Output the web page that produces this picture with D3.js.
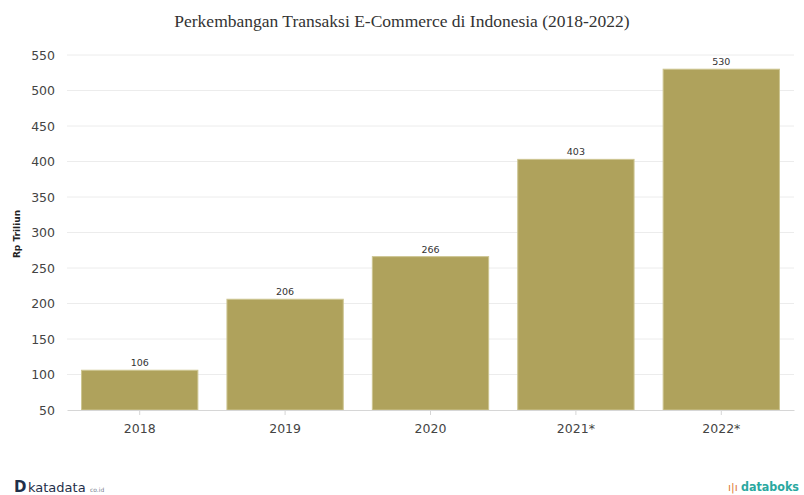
<!DOCTYPE html>
<html><head><meta charset="utf-8">
<script src="https://cdn.jsdelivr.net/npm/d3@7"></script>
<style>body{margin:0;background:#fff}svg{display:block}</style>
</head><body>
<svg id="c" width="804" height="495"></svg>
<script>
const categories = ["2018","2019","2020","2021*","2022*"];
const values = [106,206,266,403,530];
const yTicks = [50,100,150,200,250,300,350,400,450,500,550];

const svg = d3.select("#c");
const W = 804, H = 495;
const m = {l:67, r:10, t:55, b:85};
const x = d3.scaleBand().domain(categories).range([m.l, W-m.r]).paddingInner(0.2).paddingOuter(0.1);
const y = d3.scaleLinear().domain([50,550]).range([H-m.b, m.t]);

svg.append("text").attr("x",402).attr("y",27).attr("text-anchor","middle")
  .attr("font-family","Liberation Serif, Times New Roman, serif").attr("font-size",17.5).attr("fill","#333")
  .text("Perkembangan Transaksi E-Commerce di Indonesia (2018-2022)");

svg.append("g").selectAll("line").data(yTicks.slice(1)).join("line")
  .attr("x1",m.l).attr("x2",W-m.r).attr("y1",d=>y(d)).attr("y2",d=>y(d))
  .attr("stroke","#ececec").attr("stroke-width",1);

const yAxis = svg.append("g").attr("transform",`translate(${m.l},0)`)
  .call(d3.axisLeft(y).tickValues(yTicks).tickSize(0).tickPadding(12));
yAxis.select(".domain").remove();
yAxis.selectAll("text").attr("font-family","DejaVu Sans, Verdana, sans-serif").attr("font-size",12.5).attr("fill","#444");

svg.append("text").attr("transform",`translate(20,234) rotate(-90)`).attr("text-anchor","middle")
  .attr("font-family","DejaVu Sans, Verdana, sans-serif").attr("font-size",9).attr("font-weight","bold").attr("fill","#222")
  .text("Rp Triliun");

svg.append("g").selectAll("rect").data(values).join("rect")
  .attr("x",(d,i)=>x(categories[i])).attr("width",x.bandwidth())
  .attr("y",d=>y(d)).attr("height",d=>y(50)-y(d))
  .attr("fill","#afa25c").attr("stroke","#cdc591").attr("stroke-width",1);

svg.append("g").selectAll("text").data(values).join("text")
  .attr("x",(d,i)=>x(categories[i])+x.bandwidth()/2).attr("y",d=>y(d)-4)
  .attr("text-anchor","middle").attr("font-family","DejaVu Sans, Verdana, sans-serif").attr("font-size",9.5).attr("fill","#333")
  .text(d=>d);

const xAxis = svg.append("g").attr("transform",`translate(0,${y(50)})`)
  .call(d3.axisBottom(x).tickSize(5).tickPadding(9).tickSizeOuter(0));
xAxis.select(".domain").attr("stroke","#d6d6d6");
xAxis.selectAll(".tick line").attr("stroke","#d6d6d6");
xAxis.selectAll("text").attr("font-family","DejaVu Sans, Verdana, sans-serif").attr("font-size",12.5).attr("fill","#444");

const lg = svg.append("g");
lg.append("text").attr("x",14).attr("y",492).attr("font-family","DejaVu Sans, sans-serif").attr("font-weight","bold").attr("font-size",15).attr("fill","#1f2f4a").text("D");
lg.append("text").attr("x",28).attr("y",492).attr("font-family","DejaVu Sans, sans-serif").attr("font-size",13).attr("fill","#1f2f4a").text("katadata");
lg.append("text").attr("x",90).attr("y",492).attr("font-family","DejaVu Sans, sans-serif").attr("font-size",6).attr("fill","#7a8090").text("co.id");
lg.append("text").attr("x",728).attr("y",491).attr("font-family","DejaVu Sans, sans-serif").attr("font-size",11).attr("fill","#e07a3a").text("\u0131|\u0131");
lg.append("text").attr("x",741).attr("y",491).attr("font-family","DejaVu Sans, sans-serif").attr("font-weight","bold").attr("font-size",12)
  .attr("textLength",58).attr("lengthAdjust","spacingAndGlyphs").attr("fill","#2aa8a0").text("databoks");
</script>
</body></html>
